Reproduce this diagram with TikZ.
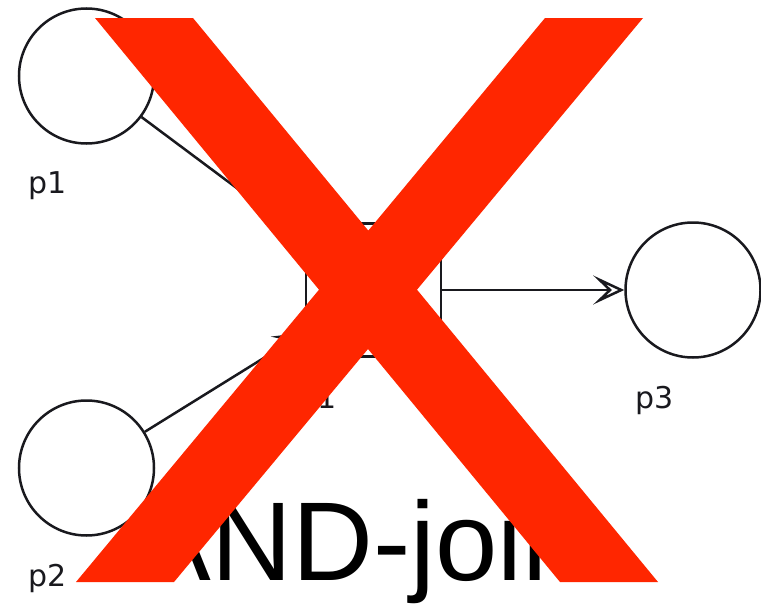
\documentclass[tikz,border=0pt]{standalone}
\usepackage{fontspec}
\setmainfont{Liberation Sans}
\newfontfamily\lblfont{DejaVu Sans}
\usetikzlibrary{arrows.meta}
\definecolor{xred}{RGB}{255,38,0}
\definecolor{ink}{RGB}{25,25,30}
\begin{document}
\begin{tikzpicture}[x=1pt,y=-1pt,
  place/.style={circle,draw=ink,line width=2.5pt,minimum size=135pt,inner sep=0pt},
  trans/.style={rectangle,draw=ink,line width=2.5pt,minimum width=135pt,minimum height=133pt,inner sep=0pt},
  lbl/.style={font=\lblfont\fontsize{30}{33}\selectfont,text=ink,inner sep=0pt,anchor=base west},
  arc/.style={draw=ink,line width=2.5pt,-{Stealth[open,length=31pt,width=29pt,inset=15pt]}},
  titletext/.style={font=\fontsize{112}{120}\selectfont,text=black,inner sep=0pt,anchor=base}]
\useasboundingbox[fill=white] (0,0) rectangle (761,605);
\node[place] (p1) at (86.5,76) {};
\node[place] (p2) at (86.5,468) {};
\node[place] (p3) at (693,290) {};
\node[trans] (t1) at (373.5,290) {};
\node[lbl] (lp1) at (28,193) {p1};
\node[lbl] (lp2) at (28,586) {p2};
\node[lbl] (lp3) at (635,408) {p3};
\node[lbl] (lt1) at (306,408) {t1};
\draw[arc] (p1) -- (t1);
\draw[arc] (p2) -- (t1);
\draw[arc] (t1) -- (p3);
\node[titletext] (title) at (361,580) {AND-join};
\fill[xred] (95,18) -- (193,18) -- (368.3,230.6) -- (545,18) -- (643,18) -- (417,289.7) -- (658,582) -- (560,582) -- (368,349) -- (174,582) -- (76,582) -- (319,289.7) -- cycle;
\end{tikzpicture}
\end{document}
